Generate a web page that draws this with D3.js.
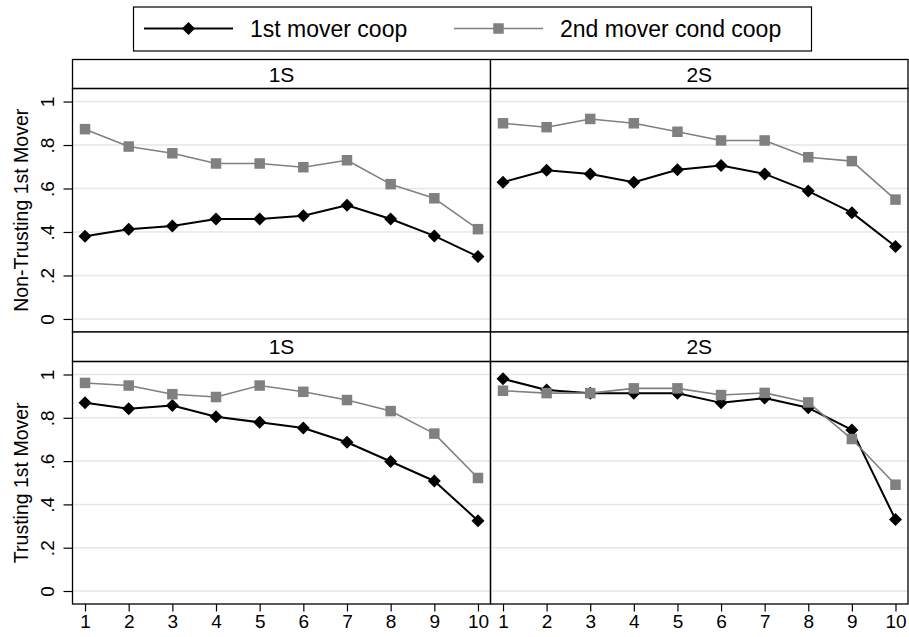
<!DOCTYPE html>
<html>
<head>
<meta charset="utf-8">
<script src="https://cdn.jsdelivr.net/npm/d3@7"></script>
<style>
  html, body { margin: 0; padding: 0; background: #fff; }
  svg { display: block; font-family: "Liberation Sans", Arial, Helvetica, sans-serif; }
</style>
</head>
<body>
<svg id="chart" width="909" height="637"></svg>
<script>
// ---------- data ----------
const periods = [1, 2, 3, 4, 5, 6, 7, 8, 9, 10];
const columnLabels = ["1S", "2S"];
const rowLabels = ["Non-Trusting 1st Mover", "Trusting 1st Mover"];
const seriesNames = ["1st mover coop", "2nd mover cond coop"];
const yTickValues = [0, 0.2, 0.4, 0.6, 0.8, 1];
const yTickLabels = ["0", ".2", ".4", ".6", ".8", "1"];

const nonTrusting1S_first  = [0.380, 0.413, 0.428, 0.460, 0.460, 0.475, 0.523, 0.460, 0.382, 0.287];
const nonTrusting1S_second = [0.873, 0.793, 0.762, 0.715, 0.715, 0.698, 0.730, 0.620, 0.555, 0.413];
const nonTrusting2S_first  = [0.629, 0.684, 0.667, 0.629, 0.686, 0.706, 0.667, 0.588, 0.489, 0.333];
const nonTrusting2S_second = [0.900, 0.882, 0.920, 0.900, 0.861, 0.821, 0.821, 0.744, 0.726, 0.549];
const trusting1S_first     = [0.869, 0.842, 0.857, 0.805, 0.779, 0.753, 0.687, 0.598, 0.508, 0.325];
const trusting1S_second    = [0.961, 0.949, 0.909, 0.896, 0.949, 0.920, 0.882, 0.831, 0.727, 0.522];
const trusting2S_first     = [0.980, 0.928, 0.913, 0.913, 0.913, 0.869, 0.891, 0.846, 0.744, 0.330];
const trusting2S_second    = [0.925, 0.914, 0.914, 0.936, 0.936, 0.905, 0.915, 0.871, 0.702, 0.491];

const panelData = [
  [[nonTrusting1S_first, nonTrusting1S_second], [nonTrusting2S_first, nonTrusting2S_second]],
  [[trusting1S_first, trusting1S_second],       [trusting2S_first, trusting2S_second]]
];

// ---------- layout ----------
const svg = d3.select("#chart");
const colX = [[72.5, 490.5], [490.5, 908]];
const rowY = [
  { head: 59.5, top: 88.5, bottom: 332 },
  { head: 332,  top: 361.5, bottom: 604 }
];
const styles = [
  { color: "#000000", lineW: 2, marker: "diamond" },
  { color: "#808080", lineW: 1.6, marker: "square" }
];
const FONT_TICK = 19, FONT_HEAD = 21, FONT_TITLE = 19.5, FONT_LEG = 23;

function drawMarker(g, type, x, y, color) {
  if (type === "diamond") {
    const r = 6.5;
    g.append("path")
      .attr("d", `M${x},${y - r}L${x + r},${y}L${x},${y + r}L${x - r},${y}Z`)
      .attr("fill", color);
  } else {
    const s = 10.5;
    g.append("rect").attr("x", x - s / 2).attr("y", y - s / 2)
      .attr("width", s).attr("height", s).attr("fill", color);
  }
}

rowLabels.forEach((rowLabel, r) => {
  const ry = rowY[r];
  const y = d3.scaleLinear().domain([-0.06, 1.06]).range([ry.bottom, ry.top]);
  columnLabels.forEach((colLabel, c) => {
    const [x0, x1] = colX[c];
    const x = d3.scaleLinear().domain([0.713, 10.287]).range([x0, x1]);
    const g = svg.append("g");

    // gridlines
    g.selectAll("line.grid").data(yTickValues).enter().append("line")
      .attr("x1", x0).attr("x2", x1)
      .attr("y1", d => y(d)).attr("y2", d => y(d))
      .attr("stroke", "#e6e6e6").attr("stroke-width", 1.5);

    // header box
    g.append("rect").attr("x", x0).attr("y", ry.head)
      .attr("width", x1 - x0).attr("height", ry.top - ry.head)
      .attr("fill", "#fff").attr("stroke", "#000").attr("stroke-width", 1.3);
    g.append("text").attr("x", (x0 + x1) / 2).attr("y", ry.head + 22)
      .attr("text-anchor", "middle").attr("font-size", FONT_HEAD).text(colLabel);

    // plot border
    g.append("rect").attr("x", x0).attr("y", ry.top)
      .attr("width", x1 - x0).attr("height", ry.bottom - ry.top)
      .attr("fill", "none").attr("stroke", "#000").attr("stroke-width", 1.3);

    // series
    panelData[r][c].forEach((vals, s) => {
      const st = styles[s];
      const line = d3.line().x((d, i) => x(periods[i])).y(d => y(d));
      g.append("path").datum(vals).attr("d", line)
        .attr("fill", "none").attr("stroke", st.color).attr("stroke-width", st.lineW)
        .attr("stroke-linejoin", "round");
      vals.forEach((v, i) => drawMarker(g, st.marker, x(periods[i]), y(v), st.color));
    });

    // y axis (left column only)
    if (c === 0) {
      const ya = d3.axisLeft(y).tickValues(yTickValues).tickSize(9).tickPadding(0)
        .tickFormat((d, i) => yTickLabels[i]);
      const ag = svg.append("g").attr("transform", `translate(${x0},0)`).call(ya);
      ag.select(".domain").remove();
      ag.selectAll(".tick line").attr("stroke", "#000").attr("stroke-width", 1.2);
      ag.selectAll(".tick text")
        .attr("font-size", FONT_TICK).attr("font-family", "Liberation Sans, Arial, sans-serif")
        .attr("fill", "#000")
        .attr("transform", "translate(-18.5,0) rotate(-90)")
        .attr("x", 0).attr("y", 0).attr("dy", 0)
        .attr("text-anchor", "middle");
      svg.append("text")
        .attr("transform", `translate(27.5,${(ry.top + ry.bottom) / 2}) rotate(-90)`)
        .attr("text-anchor", "middle").attr("font-size", FONT_TITLE).text(rowLabel);
    }
    // x axis (bottom row only)
    if (r === 1) {
      const xa = d3.axisBottom(x).tickValues(periods).tickSize(7.5).tickPadding(3)
        .tickFormat(d3.format("d"));
      const ag = svg.append("g").attr("transform", `translate(0,${ry.bottom})`).call(xa);
      ag.select(".domain").remove();
      ag.selectAll(".tick line").attr("stroke", "#000").attr("stroke-width", 1.2);
      ag.selectAll(".tick text").attr("font-size", FONT_TICK)
        .attr("font-family", "Liberation Sans, Arial, sans-serif").attr("fill", "#000");
    }
  });
});

// ---------- legend ----------
const leg = svg.append("g");
leg.append("rect").attr("x", 133.5).attr("y", 7).attr("width", 678).attr("height", 44)
  .attr("fill", "#fff").attr("stroke", "#000").attr("stroke-width", 1.2);
const legendX = [144, 454];
seriesNames.forEach((name, s) => {
  const st = styles[s];
  const lx = legendX[s];
  leg.append("line").attr("x1", lx).attr("x2", lx + 89).attr("y1", 28.5).attr("y2", 28.5)
    .attr("stroke", st.color).attr("stroke-width", st.lineW);
  drawMarker(leg, st.marker, lx + 44.5, 28.5, st.color);
  leg.append("text").attr("x", lx + 106).attr("y", 37).attr("font-size", FONT_LEG).text(name);
});
</script>
</body>
</html>
